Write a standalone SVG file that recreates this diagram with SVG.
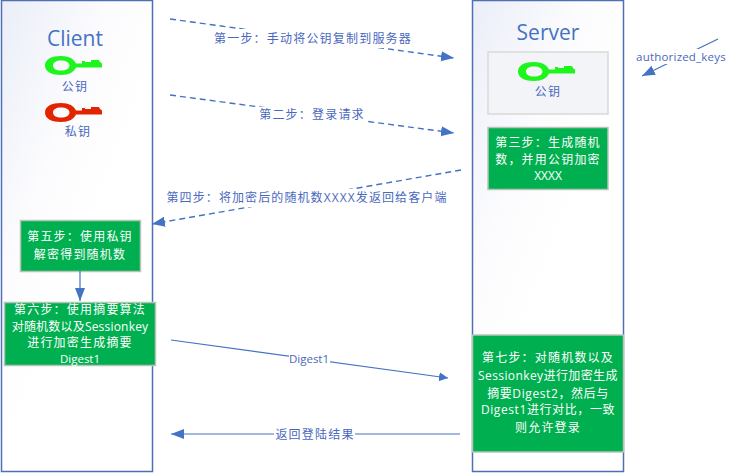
<svg xmlns="http://www.w3.org/2000/svg" width="732" height="473" viewBox="0 0 732 473">
<style>
text{font-family:"Open Sans","Noto Sans CJK SC",sans-serif;text-anchor:middle}
.t{font-size:12px;fill:#4a68bd;letter-spacing:1.2px}
.l{font-size:11.500px;fill:#4a68bd}
.w{font-size:12px;fill:#fff;letter-spacing:1.2px}
.h{font-size:21px;fill:#4472c4}
.lane{stroke:#4f6fb5;stroke-width:1.5;fill:url(#g)}
.box{fill:#00b050;stroke:#b9c4b9;stroke-width:1.5}
.c{stroke:#4472c4;stroke-width:1.2;fill:none}
.d{stroke-dasharray:6 4;stroke-width:1.4}
.mask{fill:#fff}
</style>
<defs>
<linearGradient id="g" x1="0" y1="0" x2="0.5" y2="0.6"><stop offset="0" stop-color="#ebeef8"/><stop offset="0.6" stop-color="#fcfcfe"/><stop offset="1" stop-color="#fff"/></linearGradient>
<marker id="a" markerUnits="userSpaceOnUse" markerWidth="14" markerHeight="12" refX="13" refY="5" orient="auto"><path d="M0 0L13 5L0 10Z" fill="#4472c4"/></marker>
<marker id="b" markerUnits="userSpaceOnUse" markerWidth="10" markerHeight="10" refX="9" refY="4.5" orient="auto"><path d="M0 0L9 4.5L0 9Z" fill="#4472c4"/></marker>
<path id="key" fill-rule="evenodd" d="M16 0C24 0 29 3 31 7.500L37 7.500L37 5L40 5L40 6L46 6L46 4L54 4L55 6L57 7.500L57 11.500L31 11.500C29 16 24 19 16 19C7 19 0 16 0 9.500C0 3 7 0 16 0ZM16 4.500C11 4.500 8 6.500 8 9.500C8 12.500 11 14.500 16 14.500C21 14.500 24.500 12.500 24.500 9.500C24.500 6.500 21 4.500 16 4.500Z"/>
</defs>

<g id="client">
<rect class="lane" x="1.500" y="0.500" width="151" height="471"/>
<text class="h" x="75" y="46">Client</text>
<use href="#key" x="45" y="56" fill="#1df51d"/>
<text class="t" x="75" y="91">公钥</text>
<use href="#key" x="45" y="103" fill="#e32400"/>
<text class="t" x="78" y="136">私钥</text>
</g>

<g id="server">
<rect class="lane" x="472.500" y="0.500" width="151" height="471"/>
<text class="h" x="548" y="40">Server</text>
</g>
<g id="server-key">
<rect x="488" y="52" width="120" height="62" fill="#f3f4f8" stroke="#d9d9d9" stroke-width="1.500"/>
<use href="#key" x="518" y="62" fill="#1df51d"/>
<text class="t" x="548" y="96">公钥</text>
</g>
<g id="step3">
<rect class="box" x="488" y="127.500" width="120" height="62"/>
<text class="w" x="548" y="147">第三步：生成随机</text>
<text class="w" x="548" y="164">数，并用公钥加密</text>
<text class="w" x="548" y="180" style="letter-spacing:0">XXXX</text>
</g>
<g id="step5">
<rect class="box" x="20.500" y="220.500" width="120" height="51"/>
<text class="w" x="80" y="241">第五步：使用私钥</text>
<text class="w" x="80" y="259">解密得到随机数</text>
</g>
<g id="step6">
<rect class="box" x="4.500" y="302.500" width="151" height="63"/>
<text class="w" x="80" y="314">第六步：使用摘要算法</text>
<text class="w" x="80" y="331" style="letter-spacing:.2px">对随机数以及Sessionkey</text>
<text class="w" x="80" y="347">进行加密生成摘要</text>
<text class="w" x="80" y="363" style="letter-spacing:0;font-size:11.500px">Digest1</text>
</g>
<g id="step7">
<rect class="box" x="472.500" y="335" width="151" height="117"/>
<text class="w" x="548" y="362">第七步：对随机数以及</text>
<text class="w" x="548" y="380" style="letter-spacing:.4px">Sessionkey进行加密生成</text>
<text class="w" x="548" y="398" style="letter-spacing:.6px">摘要Digest2，然后与</text>
<text class="w" x="548" y="414" style="letter-spacing:.6px">Digest1进行对比，一致</text>
<text class="w" x="548" y="432">则允许登录</text>
</g>

<g id="connectors">
<path class="c d" d="M170 19L454 58" marker-end="url(#a)"/>
<path class="c d" d="M170 95L454 133" marker-end="url(#a)"/>
<path class="c d" d="M461 170L152 224" marker-end="url(#a)"/>
<path class="c" d="M80 271L80 301" marker-end="url(#a)"/>
<path class="c" d="M171 340L448 378" marker-end="url(#b)"/>
<path class="c" d="M460 434L171 434" marker-end="url(#a)"/>
<path class="c" d="M718 39L642 76" marker-end="url(#a)"/>
</g>

<g id="labels">
<rect class="mask" x="212" y="29" width="204" height="19"/>
<text class="t" x="313" y="43">第一步：手动将公钥复制到服务器</text>
<rect class="mask" x="258" y="107" width="107" height="17"/>
<text class="t" x="312" y="119">第二步：登录请求</text>
<rect class="mask" x="166" y="189" width="283" height="18"/>
<text class="t" x="307" y="202" style="letter-spacing:1.1px">第四步：将加密后的随机数XXXX发返回给客户端</text>
<rect class="mask" x="289" y="352" width="41" height="14"/>
<text class="l" x="309" y="363">Digest1</text>
<rect class="mask" x="274" y="427" width="81" height="14"/>
<text class="t" x="315" y="439">返回登陆结果</text>
<rect class="mask" x="634" y="49" width="94" height="15"/>
<text class="l" x="681" y="61" style="letter-spacing:.2px">authorized_keys</text>
</g>
</svg>
